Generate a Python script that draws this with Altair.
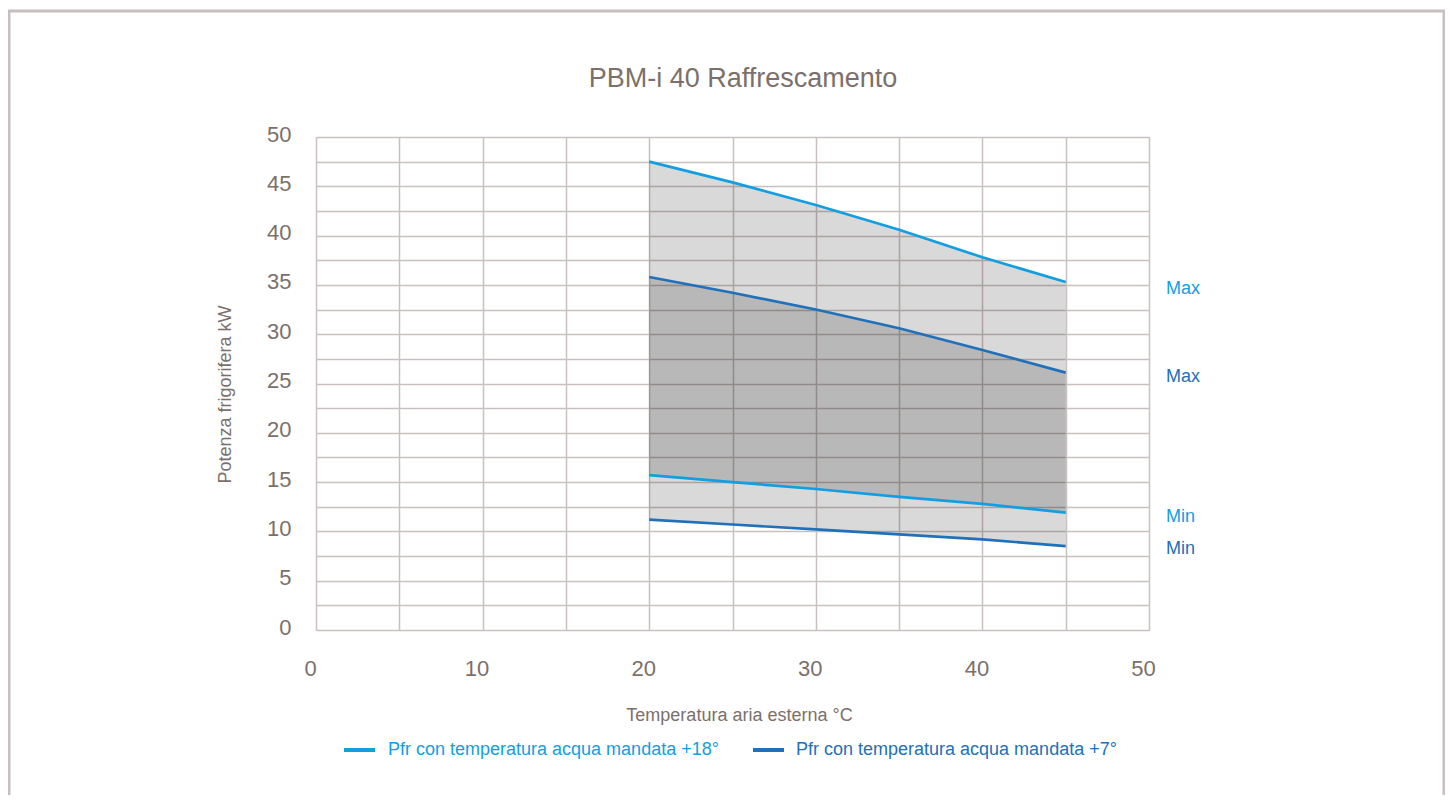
import altair as alt
import pandas as pd

# ---------------- data ----------------
temps = [20, 25, 30, 35, 40, 45]
max18 = [47.5, 45.4, 43.1, 40.6, 37.8, 35.3]
min18 = [15.7, 15.0, 14.3, 13.5, 12.8, 11.9]
max7 = [35.8, 34.2, 32.5, 30.6, 28.4, 26.1]
min7 = [11.2, 10.7, 10.2, 9.7, 9.2, 8.5]

series_names = ["Pfr con temperatura acqua mandata +18°",
                "Pfr con temperatura acqua mandata +7°"]
series_colors = ["#139ee2", "#2170ba"]

title_text = "PBM-i 40 Raffrescamento"
x_title = "Temperatura aria esterna °C"
y_title = "Potenza frigorifera kW"
x_ticks = [0, 5, 10, 15, 20, 25, 30, 35, 40, 45, 50]
y_ticks = [0, 2.5, 5, 7.5, 10, 12.5, 15, 17.5, 20, 22.5, 25,
           27.5, 30, 32.5, 35, 37.5, 40, 42.5, 45, 47.5, 50]

TEXT = "#7b706b"
GRID = "#c9c0c0"
FONT = "Liberation Sans"

W, H = 833, 493

# ---------------- tables ----------------
bands = pd.DataFrame(
    [{"t": t, "hi": hi, "lo": lo, "s": series_names[0]} for t, hi, lo in zip(temps, max18, min18)]
    + [{"t": t, "hi": hi, "lo": lo, "s": series_names[1]} for t, hi, lo in zip(temps, max7, min7)]
)
lines = pd.DataFrame(
    [{"t": t, "v": v, "s": series_names[0], "b": "max18"} for t, v in zip(temps, max18)]
    + [{"t": t, "v": v, "s": series_names[0], "b": "min18"} for t, v in zip(temps, min18)]
    + [{"t": t, "v": v, "s": series_names[1], "b": "max7"} for t, v in zip(temps, max7)]
    + [{"t": t, "v": v, "s": series_names[1], "b": "min7"} for t, v in zip(temps, min7)]
)

xs = alt.Scale(domain=[0, 50], nice=False, zero=False)
ys = alt.Scale(domain=[0, 50], nice=False, zero=False)
cs = alt.Scale(domain=series_names, range=series_colors)

x_axis = alt.Axis(
    values=x_ticks, labelExpr="datum.value % 10 === 0 ? datum.label : ''",
    grid=True, gridColor=GRID, gridWidth=1.5, ticks=False, domain=False,
    labelFontSize=22, labelPadding=28, labelOffset=-6, labelColor=TEXT, labelFont=FONT,
    labelOverlap=False, labelFlush=False,
    title=x_title, titleFontSize=18, titleFontWeight="normal", titleColor=TEXT, titleFont=FONT,
    titleX=423, titleY=85, titleAlign="center", titleBaseline="middle",
)
y_axis = alt.Axis(
    values=y_ticks, labelExpr="datum.value % 5 === 0 ? datum.label : ''",
    grid=True, gridColor=GRID, gridWidth=1.5, ticks=False, domain=False,
    labelFontSize=22, labelPadding=25, labelOffset=-3, labelColor=TEXT, labelFont=FONT,
    labelOverlap=False, labelFlush=False,
    title=y_title, titleFontSize=18, titleFontWeight="normal", titleColor=TEXT, titleFont=FONT,
    titleX=-91, titleY=257, titleAngle=270, titleAlign="center", titleBaseline="middle",
)

base_band = alt.Chart(bands).mark_area(color="black", fillOpacity=0.15).encode(
    x=alt.X("t:Q", scale=xs, axis=x_axis),
    y=alt.Y("hi:Q", scale=ys, axis=y_axis),
    y2="lo:Q",
    detail="s:N",
)

line_layer = alt.Chart(lines).mark_line(strokeWidth=2.7).encode(
    x=alt.X("t:Q", scale=xs, axis=x_axis),
    y=alt.Y("v:Q", scale=ys, axis=y_axis),
    color=alt.Color("s:N", scale=cs, legend=None),
    detail="b:N",
)

layers = [base_band, line_layer]

# end labels Max / Min
end_specs = [
    (series_names[0], "Max", max18[-1], 7),
    (series_names[1], "Max", max7[-1], 4),
    (series_names[0], "Min", min18[-1], 4),
    (series_names[1], "Min", min7[-1], 3),
]
for s, lab, val, dy in end_specs:
    df = pd.DataFrame({"t": [50], "v": [val], "lab": [lab]})
    layers.append(
        alt.Chart(df).mark_text(align="left", baseline="middle", dx=17, dy=dy,
                                fontSize=18, font=FONT,
                                color=series_colors[series_names.index(s)]).encode(
            x=alt.X("t:Q", scale=xs, axis=x_axis),
            y=alt.Y("v:Q", scale=ys, axis=y_axis),
            text="lab:N")
    )

# manual legend
leg_pos = [(28, 59, 72), (437, 468, 480)]
for (x1, x2, xt), name, col in zip(leg_pos, series_names, series_colors):
    df = pd.DataFrame({"name": [name]})
    layers.append(alt.Chart(df).mark_rule(color=col, strokeWidth=4).encode(
        x=alt.value(x1), x2=alt.value(x2), y=alt.value(613)))
    layers.append(alt.Chart(df).mark_text(align="left", baseline="middle", fontSize=18,
                                          font=FONT, color=col).encode(
        x=alt.value(xt), y=alt.value(613), text="name:N"))

# title
tdf = pd.DataFrame({"title": [title_text]})
layers.append(alt.Chart(tdf).mark_text(align="center", baseline="middle", fontSize=27,
                                       font=FONT, color=TEXT).encode(
    x=alt.value(427), y=alt.value(-58), text="title:N"))

# outer frame
layers.append(alt.Chart(tdf).mark_rect(fillOpacity=0, stroke="#c8c0c0", strokeWidth=3).encode(
    x=alt.value(-307), x2=alt.value(1128), y=alt.value(-126), y2=alt.value(720)))

chart = alt.layer(*layers).properties(
    width=W, height=H,
    autosize=alt.AutoSizeParams(type="none"),
    padding={"left": 308, "top": 129, "right": 296, "bottom": 165},
).configure_view(stroke=GRID, strokeWidth=1.5).configure(background="white")

chart.save("out.html", embed_options={"renderer": "svg", "actions": False})
